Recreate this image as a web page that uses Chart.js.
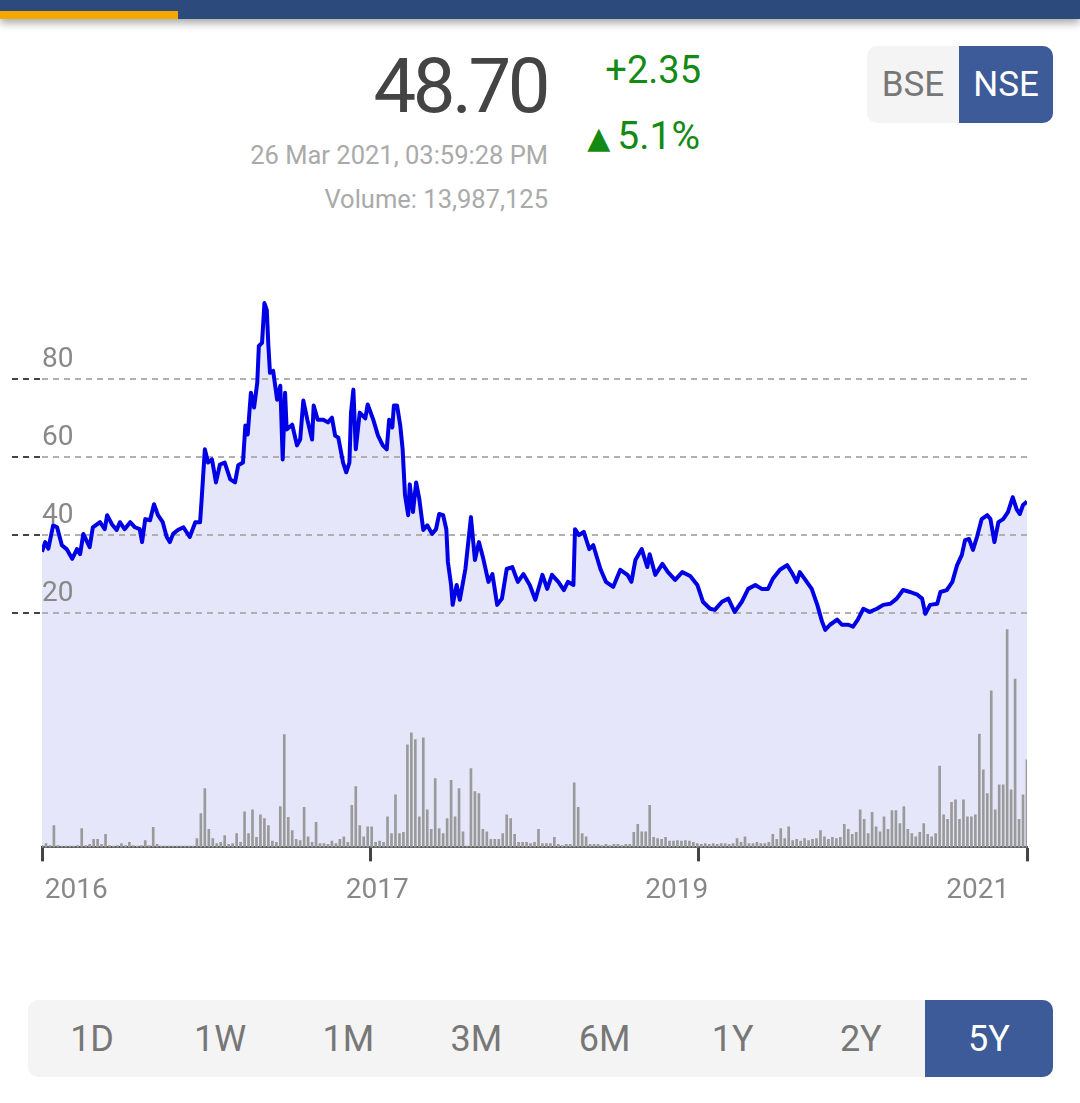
<!DOCTYPE html>
<html>
<head>
<meta charset="utf-8">
<script src="https://cdn.jsdelivr.net/npm/chart.js@4.4.1/dist/chart.umd.min.js"></script>
<style>
  html, body { margin:0; padding:0; background:#fff; }
  body { width:1080px; height:1103px; position:relative; overflow:hidden; font-family:Roboto, "Noto Sans", sans-serif; }
  .topbar { position:absolute; left:0; top:0; width:1080px; height:19px; background:#2c4a7c; box-shadow:0 4px 8px rgba(0,0,0,0.35); }
  .topbar .accent { position:absolute; left:0; top:11px; width:178px; height:8px; background:#f6a800; }
  .abs { position:absolute; white-space:nowrap; text-align:right; }
  #price { right:533px; top:48px; font-size:76px; line-height:76px; color:#444; letter-spacing:-3.5px; }
  #chg { right:379px; top:51px; font-size:38px; line-height:38px; color:#138a13; }
  #pct { right:380px; top:117px; font-size:39px; line-height:39px; color:#138a13; }
  #pct .tri { font-family:"DejaVu Sans"; font-size:30px; margin-right:7px; position:relative; top:-1px; }
  #date { right:532px; top:143px; font-size:25.5px; line-height:25.5px; color:#aaa; }
  #vol { right:532px; top:187px; font-size:25.5px; line-height:25.5px; color:#aaa; }
  .toggle { position:absolute; left:867px; top:46px; width:186px; height:77px; border-radius:10px; overflow:hidden; display:flex; background:#f4f4f4; }
  .toggle div { display:flex; align-items:center; justify-content:center; font-size:35px; color:#777; }
  .toggle .bse { width:92px; }
  .toggle .nse { width:94px; background:#3d5a99; color:#fff; }
  .ranges { position:absolute; left:28px; top:1000px; width:1025px; height:77px; border-radius:10px; overflow:hidden; display:flex; background:#f4f4f4; }
  .ranges div { flex:1; display:flex; align-items:center; justify-content:center; font-size:36px; color:#777; }
  .ranges .sel { background:#3d5a99; color:#fff; }
  #wrap { position:absolute; left:0; top:253px; width:1080px; height:700px; }
</style>
</head>
<body>
<div class="topbar"><div class="accent"></div></div>
<div class="abs" id="price">48.70</div>
<div class="abs" id="chg">+2.35</div>
<div class="abs" id="pct"><span class="tri">▲</span>5.1%</div>
<div class="abs" id="date">26 Mar 2021, 03:59:28 PM</div>
<div class="abs" id="vol">Volume: 13,987,125</div>
<div class="toggle"><div class="bse">BSE</div><div class="nse">NSE</div></div>
<div class="ranges">
  <div>1D</div><div>1W</div><div>1M</div><div>3M</div><div>6M</div><div>1Y</div><div>2Y</div><div class="sel">5Y</div>
</div>
<div id="wrap"><canvas id="c" width="1080" height="700"></canvas></div>
<script>
// ---- data (x = trading-day index over the 5-year window) ----
const priceDays = [
  0,4,8,14,19,25,31,38,44,48,
  52,60,64,73,79,82,88,94,98,104,
  111,117,123,126,130,136,141,146,152,157,
  161,165,171,178,186,193,199,201,205,209,
  214,219,224,230,237,243,247,253,256,259,
  263,267,271,273,277,280,283,285,287,291,
  296,300,303,306,308,315,321,325,329,334,
  340,342,347,354,360,365,369,373,379,383,
  387,389,392,395,400,407,410,417,423,429,
  434,437,441,443,447,451,454,457,461,463,
  467,471,475,480,485,491,496,500,505,509,
  511,515,517,522,526,533,540,545,550,555,
  562,567,573,579,585,592,599,606,614,621,
  630,636,642,650,657,662,669,671,676,682,
  689,694,703,710,719,728,737,742,747,755,
  762,765,772,781,788,797,806,816,825,832,
  841,847,856,864,872,881,889,898,906,914,
  920,929,938,945,950,954,961,969,976,982,
  986,992,1001,1007,1015,1021,1027,1034,1042,1051,
  1059,1068,1076,1084,1093,1102,1108,1112,1118,1127,
  1131,1139,1146,1152,1158,1162,1167,1172,1177,1183,
  1190,1194,1199,1204,1210,1216,1222,1227,1231,1235,
  1240
];
const priceValues = [
  35.8,38.3,36.6,42.6,42.1,37.5,36.5,34.0,36.5,35.2,
  40.4,37.0,42.1,43.4,41.6,45.2,42.9,41.4,43.4,41.6,
  43.4,42.1,41.6,38.3,44.2,43.9,48.0,45.2,43.4,39.6,
  38.3,40.4,41.4,42.1,39.6,43.4,43.4,49.3,62.1,58.7,
  59.5,53.6,58.2,58.7,54.4,53.6,58.0,58.7,68.2,65.9,
  76.6,72.8,79.2,88.6,89.4,99.6,97.8,88.6,81.7,82.2,
  74.8,78.4,59.5,76.6,67.2,68.4,63.1,64.6,74.6,69.7,
  64.6,73.3,69.7,69.7,69.0,70.2,65.6,65.1,58.7,56.2,
  58.7,71.5,77.4,62.1,71.5,70.0,73.6,69.7,65.6,63.1,
  62.1,69.7,67.7,73.3,73.3,68.2,62.1,50.3,45.2,53.1,
  46.0,53.6,49.3,41.4,42.6,40.4,41.6,45.5,45.2,41.6,
  33.2,27.3,22.2,27.3,23.5,31.4,44.7,33.7,38.3,34.5,
  28.1,30.1,22.2,23.8,31.4,31.9,28.1,30.1,27.3,23.5,
  29.9,26.3,29.9,28.1,26.0,28.1,27.3,41.6,40.1,40.9,
  36.5,37.5,31.4,28.1,26.8,31.2,29.9,28.1,33.7,36.5,
  31.9,35.2,29.9,32.7,30.6,28.6,30.6,29.6,27.3,23.0,
  21.2,20.9,23.0,23.8,20.4,23.0,26.3,27.3,26.3,26.3,
  28.9,31.2,32.4,30.1,28.1,30.6,28.6,26.3,22.2,17.9,
  15.8,17.1,18.4,17.1,17.1,16.6,18.4,21.2,20.4,21.2,
  22.2,22.5,23.8,26.0,25.5,24.8,23.8,19.9,22.2,22.5,
  25.5,26.0,28.1,32.4,35.0,38.8,39.1,36.3,39.6,44.2,
  45.2,44.2,38.3,43.4,44.2,46.0,49.8,46.7,45.5,47.8,
  48.7
];
// volume in millions of shares, one sample every volumeStepDays trading days
const volumeStepDays = 5;
const volumeValues = [
  0.3,0.6,0.3,3.5,0.3,0.2,0.2,0.2,0.2,0.3,
  3.0,0.3,0.5,1.3,1.3,0.5,2.1,0.3,0.2,0.3,
  0.6,0.3,0.8,0.3,0.2,0.3,1.1,0.3,3.2,0.5,
  0.2,0.2,0.2,0.2,0.2,0.2,0.2,0.2,0.2,1.4,
  5.4,9.4,2.9,1.4,0.6,0.8,1.9,0.5,0.6,2.2,
  0.8,5.7,2.2,6.0,1.6,5.2,4.6,3.5,1.0,0.8,
  6.5,18.0,4.8,2.7,1.3,1.1,6.4,1.7,0.8,4.0,
  0.6,0.6,0.5,1.0,0.6,1.3,1.7,0.8,6.7,9.7,
  3.5,1.7,3.3,3.3,0.8,1.0,0.8,4.9,2.2,8.4,
  2.2,2.4,16.4,18.3,17.2,4.9,17.5,6.0,2.9,11.0,
  3.0,2.2,4.6,10.7,4.9,9.4,2.5,0.2,12.6,8.9,
  8.6,2.9,2.5,1.3,1.3,1.3,2.2,5.2,4.6,2.1,
  0.8,0.8,0.8,0.6,0.8,2.9,0.6,0.6,0.6,1.6,
  0.5,0.3,0.5,0.5,10.3,6.4,2.2,1.7,0.5,0.5,
  0.5,0.3,0.5,0.3,0.5,0.5,0.3,0.5,0.5,2.4,
  3.7,2.5,2.5,6.7,1.6,1.4,1.3,1.6,1.0,1.0,
  1.1,1.0,1.1,1.0,0.8,0.6,0.5,0.6,0.5,0.6,
  0.5,0.6,0.6,0.5,0.6,1.4,0.8,1.7,0.6,0.6,
  0.8,0.6,0.6,0.8,2.1,1.3,3.0,1.4,3.3,1.1,
  1.3,1.0,1.4,1.1,1.3,1.4,2.7,1.7,1.3,1.6,
  1.4,1.6,3.7,2.9,2.1,2.4,6.0,4.5,2.2,5.6,
  3.3,2.5,4.9,2.9,5.9,5.9,3.8,6.5,2.9,2.2,
  1.7,2.4,3.8,2.1,1.7,2.2,13.0,5.2,4.5,7.2,
  7.6,4.5,7.6,4.9,4.9,5.2,18.1,12.4,8.6,25.0,
  6.0,10.0,10.0,34.8,9.2,26.9,4.5,8.4,14.0
];
const yTickValues = [20, 40, 60, 80];
const xTickDays = [0, 413.3, 826.7, 1240];
const xTickLabels = ['2016', '2017', '2019', '2021'];
const xLabelDays = [43, 422, 799, 1178];

const priceData = priceDays.map((d, i) => ({ x: d, y: priceValues[i] }));
const volumeData = volumeValues.map((v, i) => ({ x: i * volumeStepDays, y: v }));

const font28 = { family: 'Roboto', size: 28 };

new Chart(document.getElementById('c'), {
  data: {
    datasets: [
      {
        type: 'line', label: 'Price', data: priceData, order: 0,
        borderColor: '#0000e6', borderWidth: 4, pointRadius: 0, tension: 0,
        borderJoinStyle: 'round', fill: 'start', backgroundColor: '#e6e6fa',
        xAxisID: 'x', yAxisID: 'y'
      },
      {
        type: 'bar', label: 'Volume', data: volumeData, order: 1,
        backgroundColor: '#9a9a9a', barThickness: 2,
        xAxisID: 'x', yAxisID: 'yv'
      }
    ]
  },
  options: {
    responsive: false,
    animation: false,
    devicePixelRatio: 1,
    layout: { padding: { left: 12, right: 53, top: 29, bottom: 32 } },
    plugins: {
      legend: { display: false },
      tooltip: { enabled: false },
      filler: { drawTime: 'beforeDraw' }
    },
    scales: {
      x: {
        type: 'linear', position: 'bottom', min: 0, max: 1240, offset: false, weight: 0,
        afterBuildTicks: s => { s.ticks = xTickDays.map(v => ({ value: v })); },
        ticks: { display: false },
        grid: { drawOnChartArea: false, drawTicks: true, tickLength: 14, tickWidth: 3, tickColor: '#444', offset: false },
        border: { display: true, color: '#555', width: 2 }
      },
      xl: {
        type: 'linear', position: 'bottom', min: 0, max: 1240, offset: false, weight: 1,
        afterBuildTicks: s => { s.ticks = xLabelDays.map(v => ({ value: v })); },
        ticks: { color: '#888', font: font28, padding: 13, maxRotation: 0, autoSkip: false,
                 callback: (v, i) => xTickLabels[i] },
        grid: { display: false, drawTicks: false, offset: false },
        border: { display: false }
      },
      y: {
        type: 'linear', position: 'left', min: -40, max: 105,
        afterBuildTicks: s => { s.ticks = yTickValues.map(v => ({ value: v })); },
        ticks: { mirror: true, padding: 0, labelOffset: -19, color: '#888', font: font28 },
        grid: { color: '#b0b0b0', lineWidth: 2, drawTicks: true, tickLength: 30,
                tickColor: '#444', tickWidth: 2, tickBorderDash: [6, 5] },
        border: { display: false, dash: [6, 5] }
      },
      yv: {
        type: 'linear', display: false, min: 0, max: 90.3
      }
    }
  }
});
</script>
</body>
</html>
